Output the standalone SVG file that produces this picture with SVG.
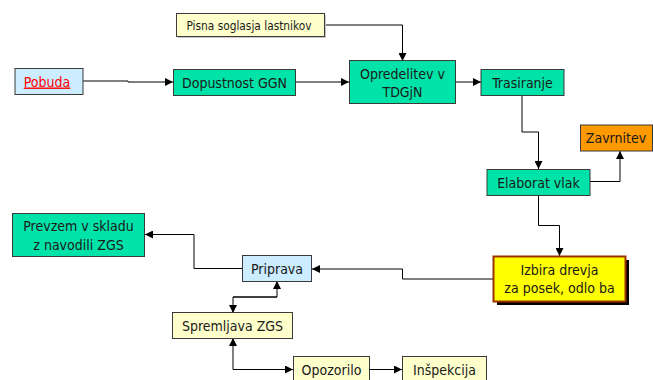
<svg xmlns="http://www.w3.org/2000/svg" width="653" height="380" viewBox="0 0 653 380">
<style>
text{font-family:"DejaVu Sans Condensed","DejaVu Sans",sans-serif;font-size:14px;fill:#1a1a1a;text-anchor:middle}
.sm{font-size:11.8px}
.box{stroke:#3a3a3a;stroke-width:1}
.g{fill:#00E3A8}
.y{fill:#FFFFCC}
.b{fill:#CCECFF}
.c{fill:none;stroke:#000;stroke-width:1}
</style>
<defs>
<marker id="a" viewBox="0 0 10 10" refX="10" refY="5" markerWidth="8" markerHeight="8" markerUnits="userSpaceOnUse" orient="auto">
<path d="M0,0L10,5L0,10z" fill="#000"/>
</marker>
</defs>
<rect width="653" height="380" fill="#fff"/>
<g id="connectors">
<polyline class="c" points="83,81 128,81 128,82 173,82" marker-end="url(#a)"/>
<polyline class="c" points="295,82 349,82" marker-end="url(#a)"/>
<polyline class="c" points="324,25 402.5,25 402.5,61" marker-end="url(#a)"/>
<polyline class="c" points="455,82 481,82" marker-end="url(#a)"/>
<polyline class="c" points="522,96 522,132 538.5,132 538.5,169" marker-end="url(#a)"/>
<polyline class="c" points="590,181.5 620,181.5 620,151" marker-end="url(#a)"/>
<polyline class="c" points="538.5,195 538.5,225.5 559.5,225.5 559.5,256" marker-end="url(#a)"/>
<polyline class="c" points="493,279 402.5,279 402.5,269 312,269" marker-end="url(#a)"/>
<polyline class="c" points="242,268.5 194,268.5 194,234.5 145,234.5" marker-end="url(#a)"/>
<polyline class="c" points="233,297 277,297 277,281" marker-end="url(#a)"/>
<polyline class="c" points="277,297 233,297 233,313" marker-end="url(#a)"/>
<polyline class="c" points="233,352 233,338" marker-end="url(#a)"/>
<polyline class="c" points="233,352 233,369.5 293,369.5" marker-end="url(#a)"/>
<polyline class="c" points="370,369.5 402,369.5" marker-end="url(#a)"/>
</g>
<g id="pisna">
<rect x="178" y="15" width="148" height="23" fill="#c8c8c8"/>
<rect class="box y" x="176.5" y="13.5" width="148" height="23"/>
<text class="sm" x="249" y="29.5">Pisna soglasja lastnikov</text>
</g>
<g id="pobuda">
<rect class="box b" x="15" y="68.5" width="68" height="26"/>
<text x="47" y="86.5" fill="#ff0000" style="fill:#ff0000" text-decoration="underline">Pobuda</text>
</g>
<g id="dopustnost">
<rect class="box g" x="173.5" y="69.5" width="122" height="26"/>
<text x="234.5" y="87.5">Dopustnost GGN</text>
</g>
<g id="opredelitev">
<rect class="box g" x="349.5" y="60.5" width="106" height="43"/>
<text x="402.5" y="79">Opredelitev v</text>
<text x="402.5" y="96.5">TDGjN</text>
</g>
<g id="trasiranje">
<rect class="box g" x="481" y="69.5" width="83" height="26"/>
<text x="522.5" y="87.5">Trasiranje</text>
</g>
<g id="zavrnitev">
<rect class="box" x="580.5" y="125" width="72" height="26" fill="#FF9900"/>
<text x="616" y="143">Zavrnitev</text>
</g>
<g id="elaborat">
<rect class="box g" x="487" y="169.5" width="103" height="26"/>
<text x="538.5" y="187.5">Elaborat vlak</text>
</g>
<g id="izbira">
<rect x="497" y="260" width="132" height="45" fill="#000"/>
<rect x="493.5" y="256.5" width="132" height="45" fill="#FFFF00" stroke="#993300" stroke-width="2"/>
<text x="559.5" y="275">Izbira drevja</text>
<text x="559.5" y="292.5">za posek, odlo ba</text>
</g>
<g id="priprava">
<rect class="box b" x="242.5" y="255.5" width="69" height="26"/>
<text x="277" y="273.5">Priprava</text>
</g>
<g id="prevzem">
<rect class="box g" x="12.5" y="213.5" width="132" height="43"/>
<text x="78.5" y="231">Prevzem v skladu</text>
<text x="78.5" y="249.5">z navodili ZGS</text>
</g>
<g id="spremljava">
<rect class="box y" x="172.5" y="312.5" width="120" height="26"/>
<text x="232.5" y="330.5">Spremljava ZGS</text>
</g>
<g id="opozorilo">
<rect class="box y" x="293.5" y="356.5" width="76" height="30"/>
<text x="331.5" y="374.5">Opozorilo</text>
</g>
<g id="inspekcija">
<rect class="box y" x="402.5" y="356.5" width="84" height="30"/>
<text x="444.5" y="374.5">Inšpekcija</text>
</g>
</svg>
